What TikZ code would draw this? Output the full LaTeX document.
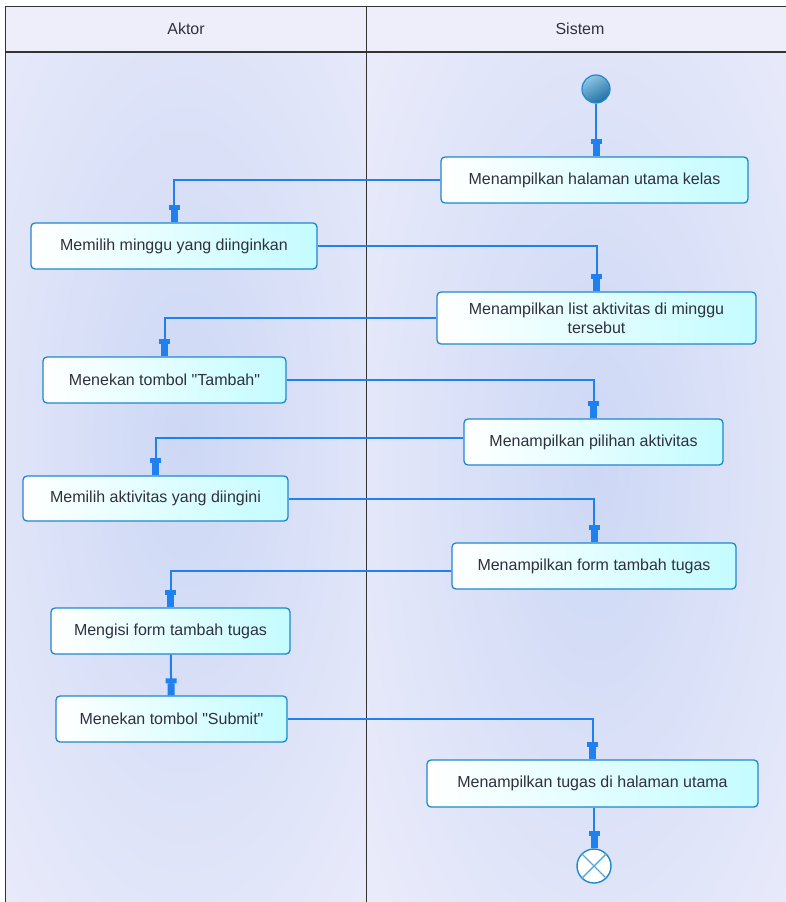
\documentclass[tikz,border=0pt]{standalone}
\usepackage{fontspec}
\newfontfamily\lib{Liberation Sans}
\usetikzlibrary{arrows.meta,shapes.geometric}
\definecolor{bgc}{HTML}{EEEEFB}
\definecolor{glow}{HTML}{CDD8F5}
\definecolor{framec}{HTML}{333333}
\definecolor{boxb}{HTML}{1E88CC}
\definecolor{cyanl}{HTML}{C4FCFF}
\definecolor{lnb}{HTML}{1F80F0}
\definecolor{txt}{HTML}{30303F}
\definecolor{ballA}{HTML}{8EC6E6}
\definecolor{ballB}{HTML}{1F6FA3}
\definecolor{crossc}{HTML}{5AA8DC}
\begin{document}
\begin{tikzpicture}[x=1pt,y=-1pt,
  every node/.style={font=\lib\fontsize{16}{19}\selectfont, text=txt},
  act/.style={draw=boxb, line width=1.3pt, rounded corners=4pt,
    left color=white, right color=cyanl, align=center, inner sep=0pt},
  flow/.style={draw=lnb, line width=2pt,
    -{Rectangle[width=11pt,length=5pt,sep=0pt] Rectangle[width=7pt,length=12pt]}},
  lane/.style={draw=framec, line width=1.6pt}]
\useasboundingbox (0,0) rectangle (786,902);
% background
\fill[white] (0,0) rectangle (786,902);
\fill[bgc] (5.5,6.5) rectangle (786,902);
\begin{scope}
  \clip (5.5,52) rectangle (366.5,902);
  \shade[inner color=glow, outer color=bgc] (185,440) ellipse [x radius=320, y radius=760];
\end{scope}
\begin{scope}
  \clip (366.5,52) rectangle (786,902);
  \shade[inner color=glow, outer color=bgc] (595,470) ellipse [x radius=330, y radius=760];
\end{scope}
% lanes
\draw[lane] (5.5,902) -- (5.5,6.5) -- (786,6.5);
\draw[lane] (5.5,52) -- (786,52);
\draw[lane] (366.5,6.5) -- (366.5,902);
\node (hA) at (186,29) {Aktor};
\node (hS) at (580,29) {Sistem};
% nodes
\node[circle, draw=boxb, line width=1.2pt, minimum size=28pt, inner sep=0pt,
  top color=ballA, bottom color=ballB, shading angle=30] (start) at (596,89) {};
\node[act, minimum width=307pt, minimum height=46pt] (n2) at (594.5,180) {Menampilkan halaman utama kelas};
\node[act, minimum width=286pt, minimum height=46pt] (n3) at (174,246) {Memilih minggu yang diinginkan};
\node[act, minimum width=319pt, minimum height=52pt] (n4) at (596.5,318) {Menampilkan list aktivitas di minggu\\tersebut};
\node[act, minimum width=243pt, minimum height=46pt] (n5) at (164.5,380) {Menekan tombol "Tambah"};
\node[act, minimum width=259pt, minimum height=46pt] (n6) at (593.5,442) {Menampilkan pilihan aktivitas};
\node[act, minimum width=265pt, minimum height=45pt] (n7) at (155.5,498.5) {Memilih aktivitas yang diingini};
\node[act, minimum width=284pt, minimum height=46pt] (n8) at (594,566) {Menampilkan form tambah tugas};
\node[act, minimum width=239pt, minimum height=46pt] (n9) at (170.5,631) {Mengisi form tambah tugas};
\node[act, minimum width=231pt, minimum height=46pt] (n10) at (171.5,719) {Menekan tombol "Submit"};
\node[act, minimum width=331pt, minimum height=47pt] (n11) at (592.5,783.5) {Menampilkan tugas di halaman utama};
\node[circle, draw=boxb, line width=1.4pt, fill=white, minimum size=34pt, inner sep=0pt] (end) at (594,866) {};
\draw[crossc, line width=1.4pt] (end.north west) -- (end.south east);
\draw[crossc, line width=1.4pt] (end.north east) -- (end.south west);
% connectors
\draw[flow] (start.south) -- (start.south |- n2.north);
\draw[flow] (n2.west) -| (n3.north);
\draw[flow] (n3.east) -| (n4.north);
\draw[flow] (n4.west) -| (n5.north);
\draw[flow] (n5.east) -| (n6.north);
\draw[flow] ([yshift=4pt]n6.west) -| (n7.north);
\draw[flow] (n7.east) -| (n8.north);
\draw[flow] ([yshift=-5pt]n8.west) -| (n9.north);
\draw[flow] (n9) -- (n10);
\draw[flow] (n10.east) -| (n11.north);
\draw[flow] (n11.south -| end.north) -- (end.north);
\end{tikzpicture}
\end{document}
